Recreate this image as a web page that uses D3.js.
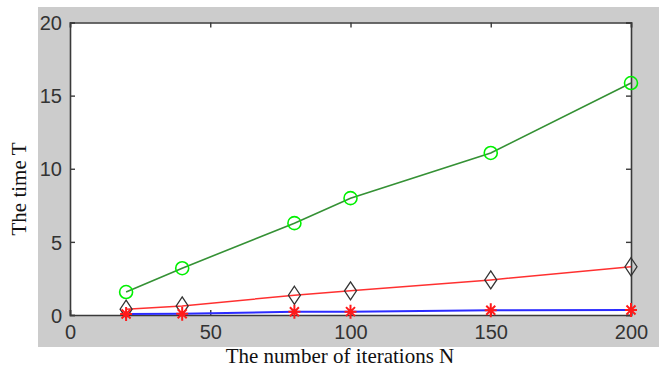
<!DOCTYPE html>
<html><head><meta charset="utf-8">
<script src="https://cdn.jsdelivr.net/npm/d3@7"></script>
<style>body{margin:0;background:#fff}svg{display:block}</style>
</head><body>
<svg id="c" width="664" height="371"></svg>
<script>
const iterations = [20, 40, 80, 100, 150, 200];
const greenSeries = [1.57, 3.2, 6.28, 7.99, 11.08, 15.86];
const redSeries = [0.4, 0.62, 1.35, 1.65, 2.4, 3.3];
const blueSeries = [0.07, 0.08, 0.22, 0.23, 0.33, 0.34];
const xTicks = [0, 50, 100, 150, 200];
const yTicks = [0, 5, 10, 15, 20];
const xLabel = "The number of iterations N";
const yLabel = "The time T";

const svg = d3.select("#c");
const L = 70, R = 631, T = 22.5, B = 315;
svg.append("rect").attr("x", 38).attr("y", 7).attr("width", 621).attr("height", 340).attr("fill", "#cccccc");
svg.append("rect").attr("x", L).attr("y", T).attr("width", R - L).attr("height", B - T).attr("fill", "#ffffff");

const x = d3.scaleLinear().domain([0, 200]).range([L, R]);
const y = d3.scaleLinear().domain([0, 20]).range([B, T]);

const axCol = "#3a3a3a";
const fontTick = "'Liberation Sans', Arial, sans-serif";
const gx = svg.append("g").attr("transform", `translate(0,${B})`)
  .call(d3.axisBottom(x).tickValues(xTicks).tickSize(-5).tickPadding(10).tickFormat(d3.format("d")));
const gxt = svg.append("g").attr("transform", `translate(0,${T})`)
  .call(d3.axisTop(x).tickValues(xTicks).tickSize(-5).tickFormat(""));
const gy = svg.append("g").attr("transform", `translate(${L},0)`)
  .call(d3.axisLeft(y).tickValues(yTicks).tickSize(-5).tickPadding(8).tickFormat(d3.format("d")));
const gyr = svg.append("g").attr("transform", `translate(${R},0)`)
  .call(d3.axisRight(y).tickValues(yTicks).tickSize(-5).tickFormat(""));
[gx, gxt, gy, gyr].forEach(g => {
  g.select(".domain").attr("stroke", axCol).attr("stroke-width", 1.6);
  g.selectAll(".tick line").attr("stroke", axCol).attr("stroke-width", 1.4);
  g.selectAll(".tick text").attr("fill", "#333").attr("font-family", fontTick).attr("font-size", 20);
});
gy.selectAll(".tick text").attr("dy", "0.36em");
gx.selectAll(".tick text").attr("dy", "0.7em");

const line = d3.line().x((d, i) => x(iterations[i])).y(d => y(d));
svg.append("path").datum(blueSeries).attr("d", line).attr("fill", "none").attr("stroke", "#2b2bff").attr("stroke-width", 2);
svg.append("path").datum(redSeries).attr("d", line).attr("fill", "none").attr("stroke", "#ff3030").attr("stroke-width", 1.5);
svg.append("path").datum(greenSeries).attr("d", line).attr("fill", "none").attr("stroke", "#359135").attr("stroke-width", 1.6);

svg.selectAll(".circ").data(greenSeries).enter().append("circle")
  .attr("cx", (d, i) => x(iterations[i])).attr("cy", d => y(d)).attr("r", 6.5)
  .attr("fill", "none").attr("stroke", "#00f000").attr("stroke-width", 1.6);
svg.selectAll(".dia").data(redSeries).enter().append("path")
  .attr("transform", (d, i) => `translate(${x(iterations[i])},${y(d)})`)
  .attr("d", "M0,-9L6,0L0,9L-6,0Z")
  .attr("fill", "none").attr("stroke", "#333").attr("stroke-width", 1.3);
svg.selectAll(".star").data(blueSeries).enter().append("path")
  .attr("transform", (d, i) => `translate(${x(iterations[i])},${y(d)})`)
  .attr("d", "M0,-7L0,7M-6,0L6,0M-4.5,-4.5L4.5,4.5M-4.5,4.5L4.5,-4.5")
  .attr("fill", "none").attr("stroke", "#ff1a1a").attr("stroke-width", 2);

svg.append("text").attr("x", 340).attr("y", 363).attr("text-anchor", "middle")
  .attr("font-family", "'Liberation Serif', 'Times New Roman', serif").attr("font-size", 21).attr("fill", "#111").text(xLabel);
svg.append("text").attr("transform", "translate(26,189) rotate(-90)").attr("text-anchor", "middle")
  .attr("font-family", "'Liberation Serif', 'Times New Roman', serif").attr("font-size", 21).attr("fill", "#111").text(yLabel);
</script>
</body></html>
